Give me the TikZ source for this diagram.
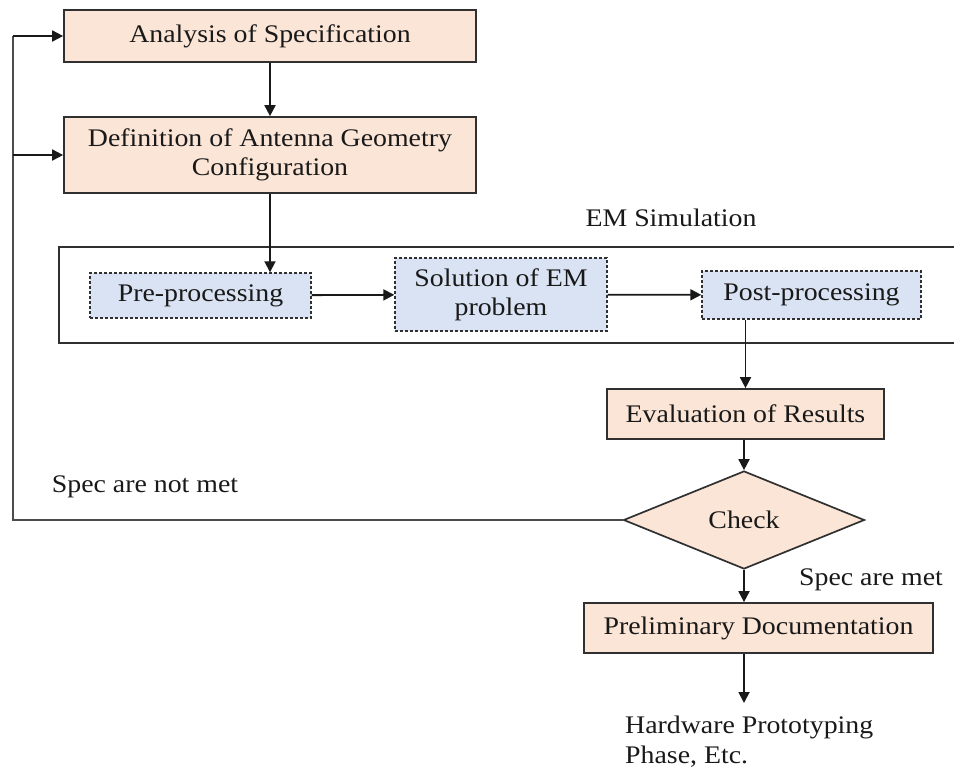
\documentclass[tikz,border=0pt]{standalone}
\usepackage{fontspec}
\setmainfont{Liberation Serif}[FakeStretch=1.1]
\usetikzlibrary{shapes.geometric,arrows.meta,calc}
\definecolor{peach}{HTML}{FBE5D6}
\definecolor{paleblue}{HTML}{DAE3F3}
\definecolor{edge}{HTML}{303030}
\begin{document}
\begin{tikzpicture}[x=1pt,y=-1pt,
  every node/.style={font=\fontsize{25.3}{29}\selectfont, text=black!90},
  mainbox/.style={draw=edge, line width=1.7pt, fill=peach, inner sep=0pt, align=center},
  subbox/.style={draw=edge, line width=1.4pt, dash pattern=on 3pt off 2pt, fill=paleblue, inner sep=0pt, align=center},
  conn/.style={draw=black!90, line width=1.8pt, -{Triangle[length=11pt,width=11pt]}},
  fb/.style={draw=black!70, line width=2pt}]
\useasboundingbox (0,0) rectangle (954,769);
% outer EM simulation frame
\draw[edge, line width=1.8pt] (59,247) rectangle (975,343);
\node (em) at (671,218) {EM Simulation};

\node[mainbox, minimum width=412pt, minimum height=52pt] (A) at (270,36) {Analysis of Specification};
\node[mainbox, minimum width=412pt, minimum height=76pt] (B) at (270,155) {Definition of Antenna Geometry\\Configuration};

\node[subbox, minimum width=221pt, minimum height=45pt] (pre) at (200.5,295.5) {Pre-processing};
\node[subbox, minimum width=212pt, minimum height=73pt] (sol) at (501,294.5) {Solution of EM\\problem};
\node[subbox, minimum width=219pt, minimum height=48pt] (post) at (811.5,295) {Post-processing};

\node[mainbox, minimum width=277pt, minimum height=50pt] (eval) at (745.5,414) {Evaluation of Results};
\node[mainbox, diamond, minimum width=241pt, minimum height=98pt, aspect=2.4] (check) at (744,520) {Check};
\node[mainbox, minimum width=349pt, minimum height=50pt] (prelim) at (758.5,628) {Preliminary Documentation};

\node[anchor=west, align=left, inner sep=0pt, font=\fontsize{25.3}{30}\selectfont] (hw) at (625,742) {Hardware Prototyping\\Phase, Etc.};
\node (notmet) at (145,487) {Spec are not met};
\node (met) at (871,580) {Spec are met};

\coordinate (fbx) at (13,0);
\coordinate (hwtop) at (744,703);

\draw[conn] (A) -- (B);
\draw[conn] (B.south) -- (B.south |- pre.north);
\draw[conn] (pre) -- (sol);
\draw[conn] (sol) -- (post);
\draw[conn] (post.south -| eval.north) -- (eval.north);
\draw[conn] (eval.south -| check.north) -- (check.north);
\draw[conn] (check.south) -- (check.south |- prelim.north);
\draw[conn] (prelim.south -| check.south) -- (hwtop);

\draw[fb] (check.west) -- (check.west -| fbx) -- (fbx |- A.west);
\draw[conn] (fbx |- A.west) -- (A.west);
\draw[conn] (fbx |- B.west) -- (B.west);
\end{tikzpicture}
\end{document}
